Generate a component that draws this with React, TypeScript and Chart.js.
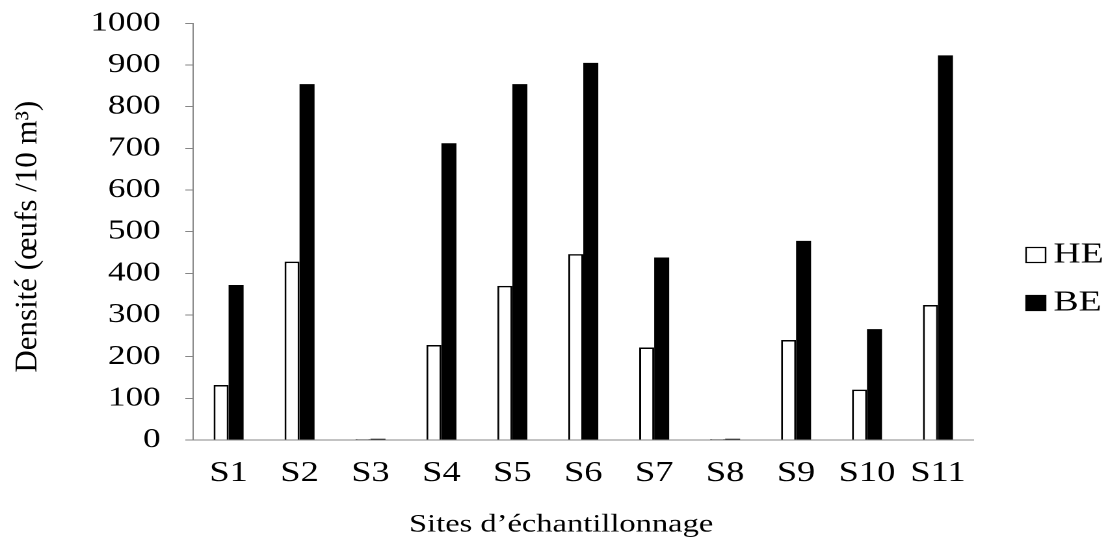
import React, { useEffect, useRef } from "react";
import { Chart, registerables } from "chart.js";

Chart.register(...registerables);

// ---- data ----
const categories = ["S1", "S2", "S3", "S4", "S5", "S6", "S7", "S8", "S9", "S10", "S11"];
const heValues = [132, 428, 2, 228, 370, 446, 222, 2, 240, 121, 324];
const beValues = [372, 854, 3, 712, 854, 905, 438, 3, 478, 266, 923];
const seriesLabels = ["HE", "BE"];
const yTicks = [0, 100, 200, 300, 400, 500, 600, 700, 800, 900, 1000];
const yTitle = "Densité (œufs /10 m³)";
const xTitle = "Sites d’échantillonnage";

// ---- look ----
const STRETCH = 1.3;
const W = 852;
const H = 547;
const SERIF = '"Liberation Serif", "Times New Roman", Times, serif';
const AXIS_GREY = "#868686";

const overlayPlugin = {
  id: "overlay",
  afterDraw(chart: any) {
    const ctx = chart.ctx as CanvasRenderingContext2D;
    // y-axis title (drawn unstretched, like the reference)
    ctx.save();
    ctx.translate(28.2, 236.7);
    ctx.scale(1 / STRETCH, 1);
    ctx.rotate(-Math.PI / 2);
    ctx.font = `31px ${SERIF}`;
    ctx.fillStyle = "#000";
    ctx.textAlign = "center";
    ctx.textBaseline = "alphabetic";
    ctx.fillText(yTitle, 0, 0);
    ctx.restore();

    // x-axis title
    ctx.save();
    ctx.font = `25px ${SERIF}`;
    ctx.fillStyle = "#000";
    ctx.textAlign = "center";
    ctx.textBaseline = "middle";
    ctx.fillText(xTitle, 431.5, 525);
    ctx.restore();

    // legend
    ctx.save();
    chart.data.datasets.forEach((ds: any, i: number) => {
      const cy = 255 + i * 48;
      const bx = 789;
      const size = 15;
      ctx.fillStyle = ds.backgroundColor;
      ctx.fillRect(bx, cy - size / 2, size, size);
      ctx.strokeStyle = "#000";
      ctx.lineWidth = 1.2;
      ctx.strokeRect(bx, cy - size / 2, size, size);
      ctx.fillStyle = "#000";
      ctx.font = `29px ${SERIF}`;
      ctx.textAlign = "left";
      ctx.textBaseline = "middle";
      ctx.fillText(ds.label, 810, cy);
    });
    ctx.restore();
  },
};

export default function App() {
  const canvasRef = useRef<HTMLCanvasElement | null>(null);

  useEffect(() => {
    if (!canvasRef.current) return;
    const chart = new Chart(canvasRef.current, {
      type: "bar",
      data: {
        labels: categories,
        datasets: [
          {
            label: seriesLabels[0],
            data: heValues,
            backgroundColor: "#ffffff",
            borderColor: "#000000",
            borderWidth: 1.5,
            categoryPercentage: 0.423,
            barPercentage: 1.0,
          },
          {
            label: seriesLabels[1],
            data: beValues,
            backgroundColor: "#000000",
            borderColor: "#000000",
            borderWidth: 0,
            categoryPercentage: 0.423,
            barPercentage: 1.0,
          },
        ],
      },
      options: {
        responsive: false,
        animation: false,
        devicePixelRatio: 2,
        layout: { padding: { top: 23.3, right: 103.5, left: 0, bottom: 0 } },
        plugins: {
          legend: { display: false },
          tooltip: { enabled: false },
        },
        scales: {
          x: {
            grid: { display: true, drawOnChartArea: false, drawTicks: false },
            border: { display: true, color: AXIS_GREY, width: 1 },
            ticks: {
              font: { family: SERIF, size: 28 },
              color: "#000",
              padding: 17,
              maxRotation: 0,
              autoSkip: false,
            },
            afterFit(scale: any) {
              scale.height = 107;
              scale.paddingLeft = 0;
              scale.paddingRight = 0;
            },
          },
          y: {
            min: 0,
            max: 1000,
            afterBuildTicks(scale: any) {
              scale.ticks = yTicks.map((v) => ({ value: v }));
            },
            ticks: {
              font: { family: SERIF, size: 27 },
              color: "#000",
              padding: 19,
              callback: (v: any) => String(v),
            },
            grid: {
              drawOnChartArea: false,
              drawTicks: true,
              tickLength: 6,
              color: AXIS_GREY,
              lineWidth: 1,
            },
            border: { display: true, color: AXIS_GREY, width: 1 },
            afterFit(scale: any) {
              scale.width = 148.5;
              scale.paddingTop = 0;
              scale.paddingBottom = 0;
            },
          },
        },
      },
      plugins: [overlayPlugin],
    } as any);
    return () => chart.destroy();
  }, []);

  return (
    <div style={{ position: "absolute", left: 0, top: 0, width: 1108, height: 547, background: "#fff" }}>
      <canvas
        ref={canvasRef}
        width={W}
        height={H}
        style={{ width: "1108px", height: "547px", display: "block" }}
      />
    </div>
  );
}
